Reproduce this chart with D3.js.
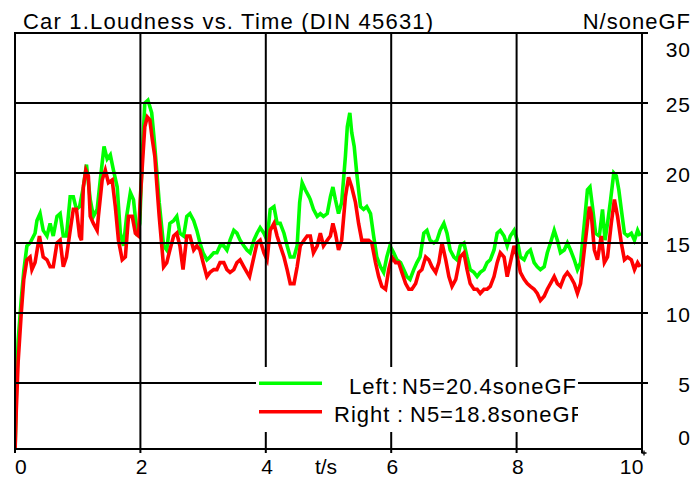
<!DOCTYPE html>
<html><head><meta charset="utf-8">
<script src="https://cdn.jsdelivr.net/npm/d3@7"></script>
<style>
body{margin:0;background:#fff}
svg{display:block}
text{font-family:"Liberation Sans",Arial,sans-serif;fill:#000}
</style>
</head><body>
<svg id="c" width="692" height="477"></svg>
<script>
const title = "Car 1.Loudness vs. Time (DIN 45631)";
const unitLabel = "N/soneGF";
const xLabel = "t/s";
const xTicks = [0, 2, 4, 6, 8, 10];
const yTicks = [0, 5, 10, 15, 20, 25, 30];
const seriesNames = ["Left", "Right"];
const seriesN5 = ["N5=20.4soneGF", "N5=18.8soneGF"];

const leftT = [0,0.02,0.05,0.1,0.14,0.19,0.24,0.32,0.35,0.40,0.45,0.51,0.56,0.61,0.67,0.72,0.77,0.82,0.88,0.93,0.98,1.03,1.09,1.14,1.20,1.25,1.31,1.36,1.42,1.47,1.52,1.57,1.63,1.68,1.73,1.78,1.84,1.89,1.95,1.99,2.03,2.07,2.12,2.18,2.22,2.26,2.30,
2.37,2.42,2.47,2.53,2.58,2.63,2.69,2.74,2.79,2.85,2.90,2.95,3.0,3.06,3.11,3.17,3.22,3.27,3.33,3.38,3.43,3.49,3.54,3.59,3.65,3.70,3.75,3.81,3.86,3.91,3.97,4.02,4.07,4.13,4.18,4.23,4.29,4.34,4.39,4.45,4.50,4.54,4.58,4.63,4.69,
4.71,4.76,4.82,4.87,4.92,4.98,5.03,5.07,5.11,5.16,5.21,5.27,5.30,5.34,5.37,5.41,5.45,5.51,5.56,5.61,5.67,5.72,5.77,5.83,5.88,5.93,5.98,6.04,6.09,6.15,6.20,6.25,6.30,6.36,6.41,6.46,6.52,6.57,6.62,6.68,6.73,6.78,6.84,6.89,6.94,7.00,7.05,
7.10,7.16,7.21,7.26,7.32,7.37,7.42,7.48,7.53,7.58,7.64,7.69,7.74,7.80,7.85,7.90,7.96,8.01,8.06,8.12,8.17,8.22,8.28,8.33,8.38,8.44,8.49,8.54,8.60,8.65,8.70,8.76,8.81,8.86,8.92,8.97,9.02,9.08,9.13,9.17,9.21,9.26,9.32,9.37,9.41,9.45,9.50,9.55,9.59,9.63,9.67,9.72,9.77,9.83,9.88,9.93,9.97];
const leftV = [0,4,8,11,13,14.8,15.0,15.7,16.6,17.1,15.9,15.5,16.4,15.5,16.9,17.1,15.5,15.5,18.3,18.3,17.4,17.6,19.0,20.6,18.1,16.9,17.4,19.5,21.9,21.0,21.3,20.2,19.0,15.7,14.8,16.9,18.6,18.1,15.5,16.4,21.2,25.0,25.2,24.3,22.4,20.2,17.9,
14.8,14.5,16.4,16.6,16.9,15.7,15.5,16.9,17.1,16.6,15.9,15.0,14.3,13.8,14.0,14.3,14.3,14.8,14.8,14.5,15.2,15.9,15.7,15.2,14.8,14.5,14.3,15.2,15.7,16.1,15.7,15.2,17.4,17.6,16.4,16.4,15.7,14.8,14.0,14.0,14.8,17.9,19.3,18.8,18.3,
18.1,17.4,16.9,17.1,16.9,17.1,18.3,19.0,18.1,17.1,17.9,21.2,23.3,24.3,22.9,21.9,20.0,17.6,17.4,17.6,17.1,15.5,14.0,13.3,12.9,14.0,14.8,14.3,13.8,13.6,13.1,12.6,12.4,13.1,13.6,14.0,15.7,15.9,15.2,15.0,15.2,15.9,16.4,15.7,14.5,14.0,13.8,
14.8,15.0,14.0,13.1,12.9,12.6,12.9,13.1,13.6,13.8,14.5,15.7,15.9,15.5,14.8,15.5,15.9,15.2,14.0,13.8,14.3,14.5,13.6,13.3,13.1,13.3,14.3,15.0,15.9,15.2,14.3,14.5,15.0,14.5,13.8,13.1,13.6,16.4,18.8,19.0,17.6,15.7,15.5,17.4,15.2,16.4,18.1,20.0,19.8,18.8,17.4,15.7,15.5,15.7,15.2,15.9,15.5];

const rightT = [0,0.02,0.05,0.1,0.14,0.19,0.24,0.27,0.32,0.39,0.45,0.51,0.56,0.61,0.67,0.72,0.77,0.82,0.88,0.93,0.98,1.03,1.06,1.09,1.13,1.17,1.20,1.25,1.31,1.33,1.39,1.44,1.49,1.55,1.60,1.65,1.71,1.76,1.81,1.87,1.92,1.97,2.0,2.04,2.07,2.11,2.15,2.19,2.23,2.26,2.30,
2.37,2.42,2.47,2.53,2.58,2.63,2.68,2.74,2.79,2.85,2.90,2.95,3.0,3.06,3.11,3.17,3.22,3.27,3.33,3.38,3.43,3.49,3.54,3.59,3.65,3.70,3.74,3.81,3.86,3.91,3.97,4.02,4.07,4.13,4.18,4.23,4.29,4.34,4.39,4.45,4.50,4.55,4.61,4.66,
4.71,4.76,4.82,4.87,4.92,4.98,5.03,5.07,5.11,5.16,5.21,5.27,5.32,5.37,5.43,5.48,5.53,5.59,5.64,5.69,5.75,5.80,5.85,5.91,5.96,6.01,6.07,6.12,6.17,6.23,6.28,6.33,6.39,6.44,6.49,6.55,6.60,6.65,6.71,6.76,6.81,6.87,6.92,6.97,7.03,
7.10,7.16,7.21,7.26,7.32,7.37,7.42,7.48,7.53,7.58,7.64,7.69,7.74,7.80,7.85,7.90,7.96,8.01,8.06,8.12,8.17,8.22,8.28,8.33,8.38,8.44,8.49,8.54,8.60,8.65,8.70,8.76,8.81,8.86,8.92,8.97,9.02,9.08,9.13,9.16,9.19,9.24,9.29,9.35,9.40,9.45,9.51,9.56,9.61,9.67,9.72,9.77,9.83,9.88,9.93,9.97];
const rightV = [0,3,6.5,10,12.4,13.8,14.0,13.1,13.6,15.5,14.0,13.8,13.3,13.3,15.0,15.2,13.3,14.0,15.9,17.4,17.4,15.5,15.2,19.0,20.2,19.8,16.9,16.4,15.9,16.9,19.5,20.2,19.3,19.5,17.6,15.2,13.8,14.0,16.9,16.9,15.7,15.5,18.3,21.2,23.3,24.0,23.8,22.4,21.2,19.3,16.9,
13.3,13.6,14.5,15.5,15.7,14.8,13.1,15.5,15.5,14.5,14.8,14.5,13.6,12.6,12.9,13.1,13.1,13.6,13.6,13.1,12.9,13.1,13.6,13.8,13.3,12.9,12.6,14.0,15.0,15.2,14.3,13.8,15.9,16.4,15.5,14.8,14.0,13.1,12.1,12.1,13.3,14.8,15.2,15.5,
15.5,14.3,14.8,15.7,14.8,15.2,15.5,16.4,15.7,14.5,15.2,18.3,19.7,19.0,17.9,16.4,15.2,15.2,15.2,15.0,13.6,12.6,11.9,11.7,13.1,14.0,13.6,13.6,12.9,12.1,11.7,11.7,12.1,12.9,13.1,14.0,13.8,13.3,12.9,13.6,15.0,13.8,12.6,11.9,12.4,
14.0,14.3,13.1,12.1,11.7,11.7,11.4,11.7,11.7,11.9,12.6,13.6,14.3,14.0,12.6,13.6,14.8,14.0,12.9,12.4,12.1,11.9,11.7,11.4,10.9,11.2,11.7,12.1,12.6,12.1,11.9,12.6,12.9,12.6,12.1,11.4,12.1,14.5,16.4,17.6,17.1,14.5,13.8,15.5,13.6,14.0,16.4,18.1,16.9,15.0,13.8,14.0,13.8,13.1,13.6,13.3];

const svg = d3.select("#c");
const x = d3.scaleLinear().domain([0, 10]).range([15, 642]);
const y = d3.scaleLinear().domain([0, 30]).range([453, 33]);
const plotBottom = 449;

// clip
svg.append("defs").append("clipPath").attr("id", "plotClip")
  .append("rect").attr("x", x(0)).attr("y", y(30)).attr("width", x(10) - x(0)).attr("height", plotBottom - y(30));
svg.select("defs").append("clipPath").attr("id", "legClip")
  .append("rect").attr("x", 250).attr("y", 360).attr("width", 328).attr("height", 80);

// data lines
const line = d3.line().x(d => x(d[0])).y(d => y(d[1]));
const gData = svg.append("g").attr("clip-path", "url(#plotClip)");
gData.append("path").datum(leftT.map((t, i) => [t, leftV[i]]))
  .attr("d", line).attr("fill", "none").attr("stroke", "#00ff00").attr("stroke-width", 3.6).attr("stroke-linejoin", "miter");
gData.append("path").datum(rightT.map((t, i) => [t, rightV[i]]))
  .attr("d", line).attr("fill", "none").attr("stroke", "#ff0000").attr("stroke-width", 3.6).attr("stroke-linejoin", "miter");

// grid
const grid = svg.append("g").attr("stroke", "#000").attr("stroke-width", 2);
grid.selectAll(".hg").data(yTicks.filter(v => v > 0 && v < 30)).join("line")
  .attr("x1", x(0)).attr("x2", x(10) + 6).attr("y1", d => y(d)).attr("y2", d => y(d));
grid.selectAll(".vg").data(xTicks).join("line")
  .attr("x1", d => x(d)).attr("x2", d => x(d))
  .attr("y1", d => (d > 0 && d < 10) ? y(30) : plotBottom).attr("y2", plotBottom + 4);
// frame
grid.append("rect").attr("x", x(0)).attr("y", y(30)).attr("width", x(10) - x(0)).attr("height", plotBottom - y(30)).attr("fill", "none");
grid.append("line").attr("x1", x(10)).attr("x2", x(10) + 6).attr("y1", y(30)).attr("y2", y(30));
// small cross at corner
const cx = x(10) + 2, cy = plotBottom + 4;
svg.append("path").attr("d", `M${cx-2.5},${cy}H${cx+2.5}M${cx},${cy-2.5}V${cy+2.5}`).attr("stroke", "#000").attr("stroke-width", 1.3);

// legend
const leg = svg.append("g");
leg.append("rect").attr("x", 256).attr("y", 367).attr("width", 322).attr("height", 65).attr("fill", "#fff");
const legY = [383.3, 411.7];
const legColors = ["#00ff00", "#ff0000"];
const nameX = [349, 334];
const colonX = [391.5, 397];
const valX = [402, 410];
seriesNames.forEach((n, i) => {
  leg.append("line").attr("x1", 259).attr("x2", 322).attr("y1", legY[i]).attr("y2", legY[i])
    .attr("stroke", legColors[i]).attr("stroke-width", 3.6);
  const t = leg.append("text").attr("clip-path", "url(#legClip)").attr("y", legY[i] + 10.2)
    .style("font-size", "22px").style("letter-spacing", "1px");
  t.append("tspan").attr("x", nameX[i]).text(n);
  t.append("tspan").attr("x", colonX[i]).text(":");
  t.append("tspan").attr("x", valX[i]).text(seriesN5[i]);
});

// texts
svg.append("text").attr("x", 23).attr("y", 29.3).style("font-size", "22px").style("letter-spacing", "1.2px").text(title);
svg.append("text").attr("x", 691).attr("y", 29.3).attr("text-anchor", "end").style("font-size", "22px").style("letter-spacing", "1px").text(unitLabel);

svg.selectAll(".yl").data(yTicks).join("text")
  .attr("x", 691).attr("text-anchor", "end")
  .attr("y", d => d === 30 ? y(d) + 23.7 : d === 0 ? 445 : y(d) + 8.7)
  .style("font-size", "21px").style("letter-spacing", "1px")
  .text(d => d);

svg.selectAll(".xl").data(xTicks).join("text")
  .attr("x", d => d === 0 ? x(d) : d === 10 ? x(d) + 2 : x(d) + 1.5)
  .attr("text-anchor", d => d === 0 ? "start" : d === 10 ? "end" : "middle")
  .attr("y", 474)
  .style("font-size", "21px").style("letter-spacing", "0.5px")
  .text(d => d);
svg.append("text").attr("x", 326).attr("y", 474).attr("text-anchor", "middle").style("font-size", "21px").text(xLabel);
</script>
</body></html>
